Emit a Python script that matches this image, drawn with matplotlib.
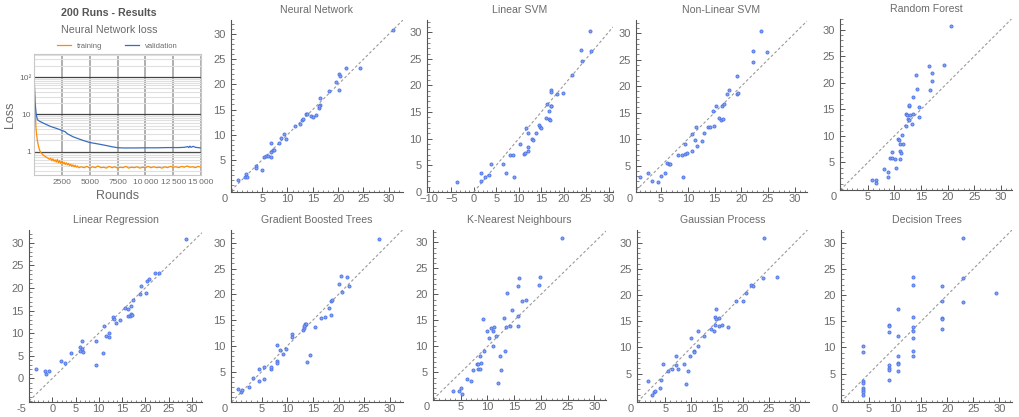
import matplotlib.pyplot as plt
from matplotlib.ticker import MultipleLocator, FixedLocator, LogLocator, NullFormatter

plt.rcParams['font.family'] = ['Liberation Sans', 'DejaVu Sans']

W, H = 1019, 417

# --- neural network loss curves ---
train_rounds = [0, 50, 100, 150, 200, 300, 400, 500, 600, 800, 1000, 1200, 1400,
                1500, 1600, 1700, 1800, 1900, 2000, 2100, 2200, 2300, 2400, 2500,
                2600, 2700, 2800, 2900, 3000, 3100, 3200, 3300, 3400, 3500, 3600,
                3700, 3800, 3900, 4000,
                4250, 4500, 4750, 5000, 5250, 5500, 5750, 6000, 6250, 6500, 6750,
                7000, 7250, 7500, 7750, 8000, 8250, 8500, 8750, 9000, 9250, 9500,
                9750, 10000, 10250, 10500, 10750, 11000, 11250, 11500, 11750, 12000,
                12250, 12500, 12750, 13000, 13250, 13500, 13750, 14000, 14250, 14500,
                14750, 15000]
train_loss = [120, 35, 12, 6, 3.5, 2.0, 1.4, 1.1, 0.95, 0.82, 0.74, 0.68, 0.62,
              0.66, 0.57, 0.64, 0.55, 0.60, 0.52, 0.62, 0.50, 0.57, 0.48, 0.55,
              0.47, 0.52, 0.45, 0.50, 0.44, 0.48, 0.42, 0.46, 0.40, 0.44, 0.39,
              0.43, 0.38, 0.41, 0.37,
              0.39, 0.37, 0.40, 0.36, 0.39, 0.37, 0.41, 0.37, 0.38, 0.36, 0.40,
              0.37, 0.39, 0.36, 0.38, 0.37, 0.40, 0.36, 0.38, 0.37, 0.39, 0.36,
              0.38, 0.37, 0.40, 0.37, 0.39, 0.37, 0.38, 0.36, 0.39, 0.37, 0.40,
              0.38, 0.39, 0.37, 0.40, 0.38, 0.41, 0.38, 0.39, 0.37, 0.40, 0.38]
val_rounds = [0, 50, 100, 200, 300, 500, 1000, 1500, 2000, 2500, 2800, 3000, 3500,
              4000, 4500, 5000, 5500, 6000, 6500, 7000, 7500, 8000, 9000, 10000,
              11000, 12000, 13000, 13500, 13800, 13900, 14000, 14100, 14300, 14500,
              15000]
val_loss = [130, 50, 20, 10, 7.2, 6.5, 5.5, 4.7, 4.2, 3.7, 3.4, 3.0, 2.5,
            2.2, 1.95, 1.75, 1.65, 1.55, 1.45, 1.35, 1.27, 1.25, 1.25, 1.26,
            1.26, 1.28, 1.28, 1.30, 1.36, 1.28, 1.40, 1.30, 1.38, 1.30, 1.25]

# --- predicted (x) vs actual (y) for each model ---
nn_x = [0.2, 1.7, 1.9, 2.0, 3.8, 3.8, 5.0, 5.3, 5.7, 6.1, 6.7, 6.8, 6.8, 7.2, 7.3,
        8.3, 8.8, 9.3, 9.7, 11.4, 12.5, 12.9, 13.1, 13.6, 13.9, 14.6, 15.0, 15.7,
        16.2, 16.4, 16.2, 16.4, 18.1, 19.5, 20.1, 20.4, 20.1, 21.5, 24.4, 30.9]
nn_y = [0.9, 1.5, 2.1, 1.6, 3.7, 3.4, 3.0, 5.5, 5.8, 5.8, 6.5, 8.3, 5.5, 6.9, 7.0,
        8.3, 9.4, 10.2, 9.2, 11.7, 12.2, 12.9, 13.1, 14.1, 14.1, 13.8, 13.5, 13.9,
        15.4, 15.8, 15.7, 17.2, 18.7, 20.4, 22.0, 21.7, 18.9, 23.2, 23.3, 30.8]

lsvm_x = [-3.8, 1.6, 1.6, 2.5, 3.4, 3.9, 6.5, 7.2, 8.1, 8.7, 9.0, 10.2, 11.1, 11.4,
          11.6, 12.0, 12.1, 12.1, 12.9, 13.1, 13.8, 14.5, 14.8, 15.0, 16.0, 16.4,
          16.7, 16.7, 16.9, 17.1, 17.3, 17.2, 17.2, 18.6, 19.9, 21.9, 24.0, 23.9,
          26.1, 25.9]
lsvm_y = [1.9, 3.5, 2.0, 2.8, 3.1, 5.3, 5.2, 3.5, 6.9, 6.9, 2.8, 9.1, 7.2, 7.4,
          12.1, 8.5, 7.7, 11.0, 9.9, 9.7, 11.0, 12.6, 12.2, 12.1, 13.9, 16.6,
          15.3, 13.8, 13.6, 16.2, 16.1, 19.1, 18.7, 18.4, 18.5, 21.9, 24.6, 26.7,
          26.4, 30.3]

nlsvm_x = [1.1, 2.5, 3.25, 4.4, 4.9, 5.8, 6.1, 6.4, 6.7, 8.2, 9.0, 9.1, 9.4, 9.8,
           9.4, 10.7, 10.8, 11.4, 11.6, 11.75, 12.6, 13.1, 13.7, 14.1, 14.9, 14.8,
           15.3, 15.8, 16.25, 16.5, 16.4, 16.7, 17.4, 17.75, 19.2, 19.4, 19.2,
           22.25, 22.25, 24.9, 23.75]
nlsvm_y = [2.9, 3.5, 2.1, 1.9, 3.0, 3.5, 5.5, 5.3, 5.2, 6.9, 7.0, 2.8, 7.2, 7.4,
           9.1, 7.7, 11.0, 9.9, 12.2, 8.6, 9.7, 11.1, 12.2, 12.2, 12.5, 15.3,
           16.2, 14.0, 13.6, 13.8, 16.2, 16.6, 18.5, 19.2, 18.6, 18.7, 21.9,
           24.6, 26.7, 26.4, 30.4]

rf_x = [5.85, 6.6, 6.6, 8.0, 8.8, 8.8, 9.1, 9.5, 9.5, 10.1, 10.3, 10.6, 10.9, 11.1,
        11.6, 11.1, 11.3, 11.1, 11.4, 12.1, 12.1, 12.3, 12.6, 12.7, 12.7, 12.8,
        12.9, 13.2, 13.4, 13.5, 14.0, 14.15, 14.6, 14.7, 16.5, 16.7, 17.0, 17.1,
        19.25, 20.6]
rf_y = [1.67, 1.67, 1.1, 3.7, 3.2, 2.2, 5.9, 5.9, 6.95, 5.6, 3.9, 9.4, 9.2, 8.4,
        8.4, 7.1, 6.7, 5.7, 10.2, 11.8, 14.2, 13.9, 13.2, 13.0, 15.6, 15.8, 13.9,
        12.2, 14.2, 17.3, 21.5, 18.8, 13.5, 15.4, 23.2, 18.7, 20.3, 21.9, 23.3,
        30.6]

lr_x = [-3.4, -1.6, -1.4, -0.8, 1.8, 2.7, 4.1, 6.0, 6.3, 6.0, 6.7, 6.5, 9.3, 9.35,
        10.9, 11.2, 11.65, 12.1, 12.2, 13.0, 13.2, 13.6, 14.6, 15.7, 16.3, 16.2,
        16.8, 17.0, 17.1, 16.9, 17.3, 18.85, 19.1, 20.1, 20.4, 20.7, 22.2, 22.9,
        28.85]
lr_y = [2.1, 1.55, 1.0, 1.55, 3.8, 3.5, 5.6, 6.9, 6.6, 6.0, 5.8, 8.3, 8.3, 3.0,
        5.6, 11.7, 9.4, 10.1, 9.2, 13.5, 13.1, 12.2, 13.0, 15.6, 15.4, 13.9,
        13.9, 14.2, 14.1, 15.9, 17.3, 18.7, 20.4, 18.9, 21.6, 21.9, 23.2, 23.3,
        30.8]

gbt_x = [0.45, 0.9, 1.2, 2.5, 3.3, 4.4, 4.5, 5.4, 5.45, 6.8, 6.9, 8.0, 8.05, 8.05,
         8.6, 9.1, 9.7, 11.0, 11.0, 13.0, 13.25, 13.4, 13.6, 13.2, 13.8, 14.4,
         15.5, 16.6, 17.4, 18.1, 18.6, 18.6, 18.8, 20.1, 20.5, 20.7, 21.7, 22.0,
         27.9]
gbt_y = [1.6, 1.0, 1.5, 2.1, 3.7, 3.1, 5.6, 5.8, 3.5, 5.6, 5.9, 10.2, 7.1, 6.7,
         9.2, 8.4, 9.4, 12.3, 11.8, 13.0, 13.4, 14.2, 14.2, 13.9, 6.8, 8.3,
         13.6, 15.5, 15.7, 17.4, 16.0, 18.8, 18.9, 22.0, 23.5, 20.5, 23.4, 21.7,
         30.8]

knn_x = [3.5, 4.7, 5.1, 5.25, 6.1, 7.0, 7.3, 8.0, 8.3, 8.25, 8.6, 8.6, 8.75, 9.1,
         9.4, 10.0, 10.3, 10.6, 11.1, 11.1, 11.25, 11.6, 12.0, 12.3, 12.6, 13.1,
         13.2, 13.5, 13.7, 14.2, 14.6, 15.8, 15.8, 15.8, 15.9, 16.4, 17.25, 19.6,
         19.9, 23.9]
knn_y = [1.4, 1.4, 2.0, 0.8, 3.65, 3.3, 5.45, 6.6, 6.6, 5.6, 5.6, 8.2, 6.9, 15.3,
         9.1, 12.9, 11.7, 13.5, 10.0, 13.0, 13.7, 12.1, 2.9, 8.2, 5.4, 15.5,
         9.2, 13.7, 20.3, 14.0, 17.1, 14.0, 15.8, 21.6, 23.2, 18.65, 18.85, 21.9,
         23.3, 30.8]

gp_x = [1.7, 2.4, 2.8, 3.0, 3.9, 4.2, 4.55, 5.6, 6.3, 7.0, 7.0, 7.4, 8.7, 9.0, 9.4,
        9.8, 9.9, 10.6, 10.6, 11.3, 11.4, 12.5, 13.9, 14.4, 14.5, 14.55, 14.7,
        14.7, 15.3, 15.3, 16.0, 17.1, 18.7, 19.9, 20.6, 21.6, 22.0, 23.9, 26.6,
        24.0]
gp_y = [3.6, 1.0, 1.5, 1.65, 2.2, 3.8, 6.9, 5.6, 5.9, 8.3, 6.7, 5.8, 6.8, 3.1, 5.6,
        8.3, 11.8, 9.4, 9.2, 13.2, 10.2, 12.2, 13.6, 13.1, 14.2, 15.9, 17.3,
        15.5, 14.0, 15.7, 14.3, 13.9, 18.9, 18.8, 20.4, 22.0, 21.7, 23.3, 23.4,
        30.8]

dt_x = [3.8, 3.8, 3.8, 3.8, 3.8, 3.8, 3.8, 3.8,
        8.8, 8.8, 8.8, 8.8, 8.8, 8.8, 8.8,
        10.5, 10.5, 10.5, 10.5, 10.5, 10.5,
        13.35, 13.35, 13.35, 13.35, 13.35, 13.35, 13.35, 13.35,
        18.9, 18.9, 18.9, 18.9, 18.9,
        23.0, 23.0, 23.0, 29.3]
dt_y = [10.2, 9.2, 3.6, 3.25, 2.3, 1.85, 1.5, 0.9,
        14.3, 14.0, 13.0, 6.75, 6.0, 5.7, 3.75,
        17.3, 12.2, 8.3, 7.0, 6.8, 5.5,
        23.4, 22.0, 15.9, 13.9, 13.2, 11.8, 9.4, 8.4,
        21.7, 18.9, 15.6, 15.4, 13.5,
        30.8, 23.3, 18.7, 20.4]

titles = ['Neural Network', 'Linear SVM', 'Non-Linear SVM', 'Random Forest',
          'Linear Regression', 'Gradient Boosted Trees', 'K-Nearest Neighbours',
          'Gaussian Process', 'Decision Trees']
xs = [nn_x, lsvm_x, nlsvm_x, rf_x, lr_x, gbt_x, knn_x, gp_x, dt_x]
ys = [nn_y, lsvm_y, nlsvm_y, rf_y, lr_y, gbt_y, knn_y, gp_y, dt_y]

# layout (pixel boxes: left, top, right, bottom) and axis ranges
boxes = [(231, 20, 403, 192), (427, 20, 613, 192), (636, 20, 807, 192),
         (840, 19, 1012, 190), (29, 230, 202, 402), (231, 230, 403, 402),
         (433, 230, 606, 400), (637, 230, 809, 402), (841, 230, 1012, 402)]
xlims = [(-1.15, 32.8), (-10.4, 31.0), (0.3, 32.3), (-0.25, 32.1), (-5.0, 32.2),
         (-1.0, 32.6), (-0.2, 32.2), (-0.45, 32.7), (-0.35, 32.4)]
ylims = [(-1.4, 32.8), (0.0, 32.3), (0.0, 32.5), (-0.2, 32.0), (-5.2, 32.8),
         (-0.9, 32.5), (-0.3, 32.4), (-0.4, 32.4), (-0.4, 32.4)]
corner = ['0', None, '0', '0', '-5', '0', '0', '0', '0']


def pbox(l, t, r, b):
    return [l / W, 1 - b / H, (r - l) / W, (b - t) / H]


grey = '#6b6b6b'
fig = plt.figure(figsize=(W / 100, H / 100), dpi=100)

# loss panel
ax = fig.add_axes(pbox(34, 54, 201, 175))
ax.plot(train_rounds, train_loss, color='#ff8c00', lw=0.9, label='training')
ax.plot(val_rounds, val_loss, color='#3a6cc0', lw=0.9, label='validation')
ax.set_yscale('log')
ax.set_xlim(0, 15000)
ax.set_ylim(0.235, 415)
ax.xaxis.set_major_locator(FixedLocator([2500, 5000, 7500, 10000, 12500, 15000]))
ax.set_xticklabels(['2500', '5000', '7500', '10\u2009000', '12\u2009500', '15\u2009000'])
ax.yaxis.set_major_locator(FixedLocator([1, 10, 100]))
ax.set_yticklabels(['1', '10', '10²'])
ax.yaxis.set_minor_locator(LogLocator(base=10, subs=range(2, 10)))
ax.yaxis.set_minor_formatter(NullFormatter())
ax.grid(True, which='major', axis='y', color='#444444', lw=0.9)
ax.grid(True, which='minor', axis='y', color='#e0e0e0', lw=0.8)
ax.grid(True, which='major', axis='x', color='#9a9a9a', lw=1.1)
ax.set_axisbelow(True)
ax.tick_params(which='both', length=0, labelsize=6, labelcolor=grey)
ax.tick_params(axis='y', pad=2)
ax.tick_params(axis='x', pad=3)
for s in ax.spines.values():
    s.set_color('#c8c8c8')
ax.set_xlabel('Rounds', fontsize=9, color=grey, labelpad=3)
ax.set_ylabel('Loss', fontsize=9, color=grey)
ax.yaxis.set_label_coords(-0.11, 0.5)
ax.legend(loc='lower center', bbox_to_anchor=(0.5, 0.99), ncol=2, frameon=False,
          fontsize=5.5, handlelength=1.8, columnspacing=3, labelcolor=grey,
          borderpad=0.2)
fig.text(109 / W, 1 - 13 / H, '200 Runs - Results', ha='center', va='center',
         fontsize=7.7, fontweight='bold', color='#555555')
fig.text(109 / W, 1 - 30 / H, 'Neural Network loss', ha='center', va='center',
         fontsize=7.7, color=grey)

# scatter panels
for i in range(len(titles)):
    ax = fig.add_axes(pbox(*boxes[i]))
    ax.scatter(xs[i], ys[i], s=5, facecolor='#86a2f0', edgecolor='#4a72e6',
               linewidths=0.6, zorder=3)
    ax.axline((0, 0), slope=1, color='#9a9a9a', lw=0.8, ls=(0, (2.5, 2)), zorder=2)
    ax.set_xlim(*xlims[i])
    ax.set_ylim(*ylims[i])
    if i == 1:
        ax.set_xticks([-10, -5, 0, 5, 10, 15, 20, 25, 30])
        ax.set_yticks([0, 5, 10, 15, 20, 25, 30])
    elif i == 4:
        ax.set_xticks([0, 5, 10, 15, 20, 25, 30])
        ax.set_yticks([0, 5, 10, 15, 20, 25, 30])
    else:
        ax.set_xticks([5, 10, 15, 20, 25, 30])
        ax.set_yticks([5, 10, 15, 20, 25, 30])
    ax.xaxis.set_minor_locator(MultipleLocator(1))
    ax.yaxis.set_minor_locator(MultipleLocator(1))
    for s in ['top', 'right']:
        ax.spines[s].set_visible(False)
    for s in ['left', 'bottom']:
        ax.spines[s].set_color('#555555')
        ax.spines[s].set_linewidth(0.8)
    ax.tick_params(which='both', direction='in', color='#555555', labelcolor=grey,
                   labelsize=8)
    ax.tick_params(which='major', length=3.5, width=0.7)
    ax.tick_params(which='minor', length=1.8, width=0.5)
    ax.tick_params(axis='x', pad=1.5)
    ax.tick_params(axis='y', pad=4)
    if corner[i]:
        ax.annotate(corner[i], xy=(0, 0), xycoords='axes fraction', xytext=(-2, -1.5),
                    textcoords='offset points', ha='right', va='top', fontsize=8,
                    color=grey)
    ax.set_title(titles[i], fontsize=7.6, color=grey, pad=5)

fig.savefig('out.png', dpi=100)
